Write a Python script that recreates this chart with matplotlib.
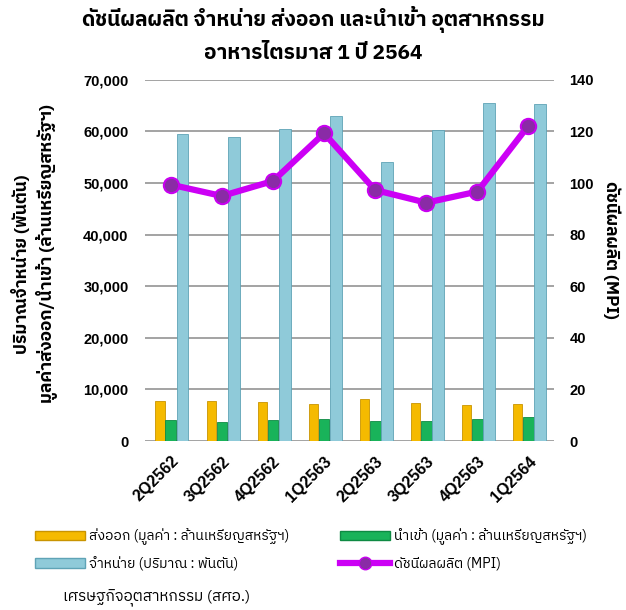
import matplotlib
matplotlib.use('Agg')
import matplotlib.pyplot as plt
import numpy as np
from matplotlib import font_manager
from matplotlib.ft2font import FT2Font
from matplotlib.lines import Line2D
from matplotlib.patches import Patch

quarters = ['2Q2562', '3Q2562', '4Q2562', '1Q2563',
            '2Q2563', '3Q2563', '4Q2563', '1Q2564']
export_val = [7750, 7750, 7550, 7100, 8200, 7450, 7000, 7100]
import_val = [4000, 3750, 4050, 4200, 3900, 3900, 4300, 4700]
sales_qty = [59500, 59000, 60500, 63000, 54000, 60300, 65500, 65300]
mpi = [99.4, 95.0, 100.8, 119.3, 97.3, 92.4, 96.7, 122.3]

title = 'ดัชนีผลผลิต จำหน่าย ส่งออก และนำเข้า อุตสาหกรรม\nอาหารไตรมาส 1 ปี 2564'
ylab_qty = 'ปริมาณจำหน่าย (พันตัน)'
ylab_val = 'มูลค่าส่งออก/นำเข้า (ล้านเหรียญสหรัฐฯ)'
ylab_mpi = 'ดัชนีผลผลิต (MPI)'
leg_export = 'ส่งออก (มูลค่า : ล้านเหรียญสหรัฐฯ)'
leg_import = 'นำเข้า (มูลค่า : ล้านเหรียญสหรัฐฯ)'
leg_sales = 'จำหน่าย (ปริมาณ : พันตัน)'
leg_mpi = 'ดัชนีผลผลิต (MPI)'
source = 'เศรษฐกิจอุตสาหกรรม (สศอ.)'

C_EXP, E_EXP = '#F5BA00', '#C99400'
C_IMP, E_IMP = '#19B35A', '#0E8A43'
C_SAL, E_SAL = '#8FCAD9', '#5FA3B6'
C_MPI = '#CC00F5'


def thai_family():
    # pick an installed font that actually has Thai glyphs, prefer sans
    found = []
    for f in font_manager.fontManager.ttflist:
        try:
            if 0x0E14 in FT2Font(f.fname).get_charmap():
                found.append(f.name)
        except Exception:
            pass
    found = sorted(set(found), key=lambda n: ('Serif' in n, 'Thai' not in n, n))
    return found[0] if found else 'DejaVu Sans'


TH = thai_family()
NUM = ['Liberation Sans', 'DejaVu Sans']
plt.rcParams['font.family'] = [TH, 'DejaVu Sans']

fig = plt.figure(figsize=(6.26, 6.10), dpi=100)
ax = fig.add_axes([0.232, 0.277, 0.653, 0.592])
ax2 = ax.twinx()

x = np.arange(len(quarters))
w = 0.21
ax.bar(x - w, export_val, w * 0.85, color=C_EXP, edgecolor=E_EXP, lw=0.6, zorder=3)
ax.bar(x, import_val, w, color=C_IMP, edgecolor=E_IMP, lw=0.6, zorder=3)
ax.bar(x + w * 1.1, sales_qty, w * 1.1, color=C_SAL, edgecolor=E_SAL, lw=0.6, zorder=3)

ax.set_xlim(-0.5, len(quarters) - 0.5)
ax.set_ylim(0, 70000)
ax.set_yticks(np.arange(0, 70001, 10000))
ax.set_yticklabels([f'{v:,}' for v in range(0, 70001, 10000)],
                   fontsize=10.5, fontweight='bold', family=NUM)
ax.yaxis.grid(True, color='#8a8a8a', lw=1.1, zorder=0)
ax.set_axisbelow(True)
ax.set_xticks(x)
ax.set_xticklabels(quarters, rotation=45, ha='right', va='top',
                   rotation_mode='anchor', fontsize=11.5, fontweight='bold',
                   family=NUM)
ax.tick_params(axis='y', length=0, pad=12)
ax.tick_params(axis='x', length=0, pad=9)
for s in ax.spines.values():
    s.set_visible(False)

ax2.plot(x, mpi, color=C_MPI, lw=4.5, marker='o', ms=11,
         mfc='#8A2BA6', mec='#C800F0', mew=1.5, zorder=5)
ax2.set_ylim(0, 140)
ax2.set_yticks(np.arange(0, 141, 20))
ax2.set_yticklabels([str(v) for v in range(0, 141, 20)],
                    fontsize=10.5, fontweight='bold', family=NUM)
ax2.tick_params(length=0, pad=11)
for s in ax2.spines.values():
    s.set_visible(False)

fig.text(0.5, 0.944, title, ha='center', va='center', fontsize=15,
         fontweight='bold', linespacing=1.75)
fig.text(0.032, 0.567, ylab_qty, rotation=90, ha='center', va='center',
         fontsize=12.5, fontweight='bold')
fig.text(0.075, 0.585, ylab_val, rotation=90, ha='center', va='center',
         fontsize=12.5, fontweight='bold')
fig.text(0.978, 0.59, ylab_mpi, rotation=270, ha='center', va='center',
         fontsize=12.5, fontweight='bold')

handles = [Patch(facecolor=C_EXP, edgecolor=E_EXP),
           Patch(facecolor=C_SAL, edgecolor=E_SAL),
           Patch(facecolor=C_IMP, edgecolor=E_IMP),
           Line2D([], [], color=C_MPI, lw=4.5, marker='o', ms=9,
                  mfc='#8A2BA6', mec='#C800F0')]
labels = [leg_export, leg_sales, leg_import, leg_mpi]
fig.legend(handles, labels, loc='upper left', bbox_to_anchor=(0.045, 0.145),
           ncol=2, frameon=False, fontsize=10, handlelength=3.6,
           handleheight=0.7, handletextpad=0.3, columnspacing=3.6,
           labelspacing=0.8, borderpad=0)

fig.text(0.1, 0.02, source, ha='left', va='center', fontsize=11)

fig.savefig('out.png', dpi=100)
